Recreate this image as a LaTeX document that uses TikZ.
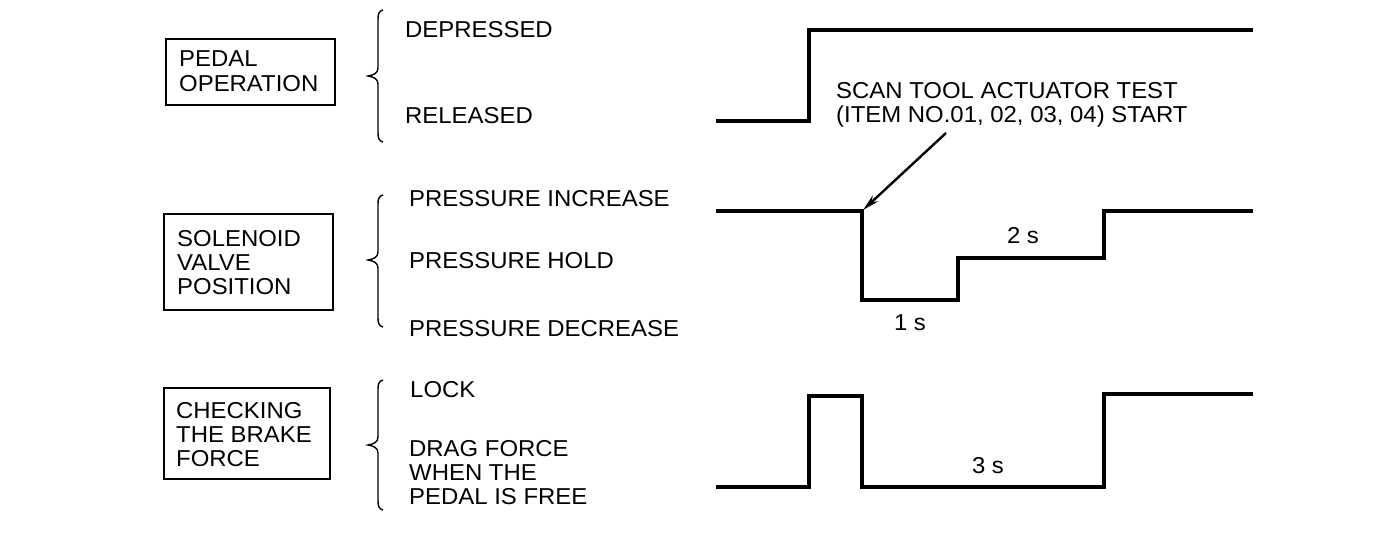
\documentclass[tikz,border=0pt]{standalone}
\usepackage{fontspec}
\setmainfont{Liberation Sans}[FakeStretch=1.04]
\usetikzlibrary{arrows.meta}
\newcommand\mybrace[3]{%
  \draw[brc] (383,#1) .. controls (379,{#1+1}) and (378,{#1+4}) .. (378,{#1+9})
    -- (378,{#2-8}) .. controls (378,{#2-3}) and (374,{#2-1}) .. (368,#2)
    .. controls (374,{#2+1}) and (378,{#2+3}) .. (378,{#2+8})
    -- (378,{#3-9}) .. controls (378,{#3-4}) and (379,{#3-1}) .. (383,#3);}
\begin{document}
\begin{tikzpicture}[x=1pt,y=-1pt,
  lbl/.style={anchor=base west, inner sep=0pt, font=\fontsize{23}{24}\selectfont},
  ctr/.style={anchor=base, inner sep=0pt, font=\fontsize{23}{24}\selectfont},
  frame/.style={draw, line width=1.5pt, inner sep=0pt, anchor=north west},
  wave/.style={line width=3.4pt, line join=miter},
  brc/.style={line width=1.4pt},
  pointer/.style={line width=2.4pt, -{Stealth[length=17pt,width=8pt]}},
]
\useasboundingbox (0,0) rectangle (1376,538);
% boxes
\node[frame, minimum width=169pt, minimum height=66pt] (b1) at (165,38) {};
\node[frame, minimum width=169pt, minimum height=96pt] (b2) at (163,213) {};
\node[frame, minimum width=166pt, minimum height=91pt] (b3) at (163,387) {};
\node[lbl] (b1a) at (179,66) {PEDAL};
\node[lbl] (b1b) at (179,91) {OPERATION};
\node[lbl] (b2a) at (177,246) {SOLENOID};
\node[lbl] (b2b) at (177,270) {VALVE};
\node[lbl] (b2c) at (177,294) {POSITION};
\node[lbl] (b3a) at (176,418) {CHECKING};
\node[lbl] (b3b) at (176,442) {THE BRAKE};
\node[lbl] (b3c) at (176,466) {FORCE};
% braces
\mybrace{10}{76}{142}
\mybrace{195}{260}{327}
\mybrace{380}{445}{510}
% state labels
\node[lbl] (s1a) at (405,37) {DEPRESSED};
\node[lbl] (s1b) at (405,123) {RELEASED};
\node[lbl] (s2a) at (409,206) {PRESSURE INCREASE};
\node[lbl] (s2b) at (409,268) {PRESSURE HOLD};
\node[lbl] (s2c) at (409,336) {PRESSURE DECREASE};
\node[lbl] (s3a) at (410,397) {LOCK};
\node[lbl] (s3b) at (409,456) {DRAG FORCE};
\node[lbl] (s3c) at (409,480) {WHEN THE};
\node[lbl] (s3d) at (409,504) {PEDAL IS FREE};
% note
\node[lbl] (n1) at (836,98) {SCAN TOOL ACTUATOR TEST};
\node[lbl] (n2) at (836,122) {(ITEM NO.01, 02, 03, 04) START};
% durations
\node[ctr] (t1) at (910,330) {1 s};
\node[ctr] (t2) at (1023,243) {2 s};
\node[ctr] (t3) at (988,473) {3 s};
% waveforms
\draw[wave] (716,121) -- (809,121) -- (809,30) -- (1253,30);
\draw[wave] (716,211) -- (862,211) -- (862,300) -- (958,300) -- (958,258) -- (1104,258) -- (1104,211) -- (1253,211);
\draw[wave] (716,487) -- (809,487) -- (809,396) -- (862,396) -- (862,487) -- (1104,487) -- (1104,394) -- (1253,394);
% pointer
\coordinate (atail) at (946,133);
\coordinate (ahead) at (863,210);
\draw[pointer] (atail) -- (ahead);
\end{tikzpicture}
\end{document}
